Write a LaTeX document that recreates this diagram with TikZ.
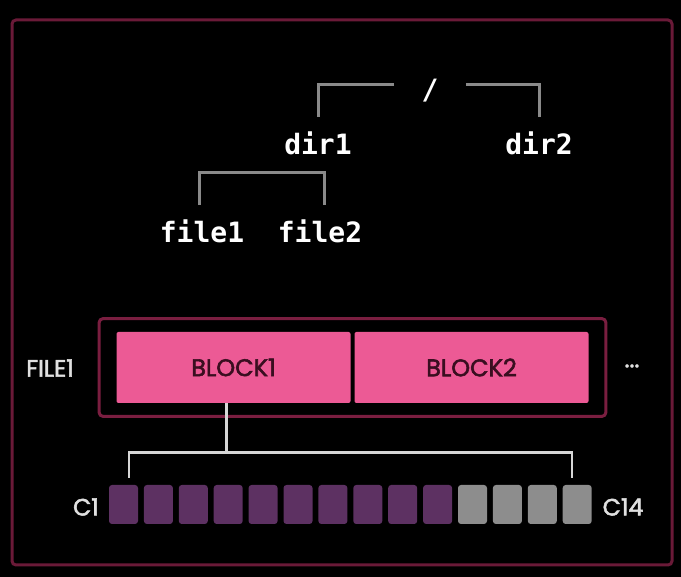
\documentclass[tikz,border=0pt]{standalone}
\usepackage{fontspec}
\setmonofont{DejaVu Sans Mono}
\newfontfamily\labelfont{Poppins}[FakeBold=2.2]
\usetikzlibrary{calc, fit}

\definecolor{framered}{HTML}{6A1A38}
\definecolor{boxred}{HTML}{7A1E40}
\definecolor{blockpink}{HTML}{EC5A95}
\definecolor{blocktext}{HTML}{3A0E20}
\definecolor{chunkpurple}{HTML}{5D3162}
\definecolor{chunkgray}{HTML}{8D8D8D}
\definecolor{treegray}{HTML}{8A8A8A}
\definecolor{chunkline}{HTML}{D6D6D6}

\tikzset{
    treename/.style={font=\ttfamily\bfseries\fontsize{14}{16}\selectfont, text=white, inner xsep=0pt, inner ysep=7pt},
    treeline/.style={treegray, line width=1.5pt},
    blockbox/.style={fill=blockpink, rounded corners=1pt, minimum width=117pt, minimum height=35.5pt, inner sep=0pt,
        font=\labelfont\fontsize{12}{14}\selectfont, text=blocktext},
    filebox/.style={draw=boxred, line width=1.5pt, rounded corners=2pt, inner xsep=8.5pt, inner ysep=6.5pt},
    chunkbox/.style={rounded corners=1.5pt, minimum width=14.5pt, minimum height=19.5pt, inner sep=0pt},
    sidelabel/.style={font=\labelfont\fontsize{11.8}{14}\selectfont, text=white!88!black},
    bracketline/.style={chunkline, line width=1.4pt}
}

\begin{document}
\begin{tikzpicture}[x=0.5pt, y=-0.5pt]
    % Define chunk row dimensions
    \def\nchunks{14} % number of chunks in one block
    \def\nused{10} % chunks already written
    \def\pitch{34.9} % distance between chunks
    \def\firstx{123.5} % centre of the first chunk

    % --- Background and outer frame ---
    \fill[black] (0,0) rectangle (681,577);
    \draw[framered, line width=1.5pt, rounded corners=2pt] (12,20) rectangle (672,565);

    % --- Directory tree ---
    \node[treename, minimum width=35.5pt] (root) at (430,91) {/};
    \node[treename] (dir1) at (318,143) {dir1};
    \node[treename] (dir2) at (539,143) {dir2};
    \node[treename] (file1) at (202,231) {file1};
    \node[treename] (file2) at (320,231) {file2};

    % Brackets from / down to the two dirs
    \draw[treeline] ([yshift=3pt]root.west) -| (dir1.north);
    \draw[treeline] ([yshift=3pt]root.east) -| (dir2.north);

    % Bracket over the two files
    \draw[treeline] ([xshift=-1.5pt]file1.north) -- ++(0,-33) -| ([xshift=2pt]file2.north);

    % --- File made of blocks ---
    \node[blockbox] (block1) at (233.5,367.5) {BLOCK1};
    \node[blockbox] (block2) at (471.5,367.5) {BLOCK2};
    \node[filebox, fit=(block1)(block2)] (file) {};

    \node[sidelabel] (filename) at (50,368) {FILE1};
    \node[sidelabel] (more) at (632,366) {...};

    % --- Chunks of one block ---
    \foreach \i in {1,...,\nchunks} {
        \ifnum\i>\nused % Check if the chunk is still empty
            \node[chunkbox, fill=chunkgray] (c\i) at ({\firstx+(\i-1)*\pitch},504.5) {};
        \else
            \node[chunkbox, fill=chunkpurple] (c\i) at ({\firstx+(\i-1)*\pitch},504.5) {};
        \fi
    }

    \node[sidelabel] (firstname) at (86,507) {C1};
    \node[sidelabel] (lastname) at (623,507) {C14};

    % Line from BLOCK1 down to its chunks
    \draw[bracketline] ([xshift=-3.5pt]block1.south) -- ++(0,49) coordinate (split);
    \draw[bracketline] ([shift={(2.75pt,3.5pt)}]c1.north) |- (split) -| ([shift={(-2.6pt,3.5pt)}]c\nchunks.north);

\end{tikzpicture}
\end{document}
